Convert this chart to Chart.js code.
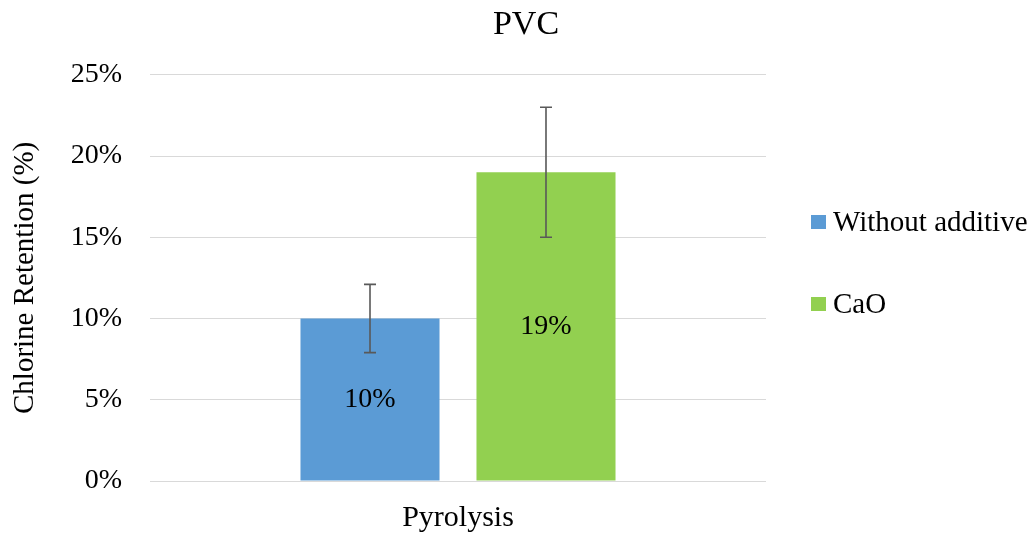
<!DOCTYPE html>
<html>
<head>
<meta charset="utf-8">
<script src="https://cdn.jsdelivr.net/npm/chart.js@4.4.1/dist/chart.umd.min.js"></script>
<style>
  html, body { margin: 0; padding: 0; background: #ffffff; }
  #wrap { width: 1034px; height: 533px; }
</style>
</head>
<body>
<div id="wrap"><canvas id="c" width="1034" height="533"></canvas></div>
<script>
const categories = ['Pyrolysis'];
const seriesNames = ['Without additive', 'CaO'];
const withoutAdditive = [10];
const caO = [19];
const withoutAdditiveErr = [2.1];
const caOErr = [4.0];
const seriesColors = ['#5B9BD5', '#92D050'];
const chartTitle = 'PVC';
const yAxisTitle = 'Chlorine Retention (%)';
const yMin = 0, yMax = 25, yStep = 5;

const FONT = "'Liberation Serif', 'Times New Roman', serif";

const errorBarPlugin = {
  id: 'errorBars',
  afterDatasetsDraw(chart) {
    const ctx = chart.ctx;
    const yScale = chart.scales.y;
    // data labels
    chart.data.datasets.forEach((ds, i) => {
      const meta = chart.getDatasetMeta(i);
      meta.data.forEach((bar, j) => {
        const v = ds.data[j];
        ctx.save();
        ctx.font = '28px ' + FONT;
        ctx.fillStyle = '#000000';
        ctx.textAlign = 'center';
        ctx.textBaseline = 'middle';
        ctx.fillText(Math.round(v) + '%', bar.x, (bar.y + bar.base) / 2);
        ctx.restore();
      });
    });
    // error bars
    chart.data.datasets.forEach((ds, i) => {
      const meta = chart.getDatasetMeta(i);
      meta.data.forEach((bar, j) => {
        const v = ds.data[j];
        const e = ds.errors[j];
        const yTop = yScale.getPixelForValue(v + e);
        const yBot = yScale.getPixelForValue(v - e);
        ctx.save();
        ctx.strokeStyle = '#595959';
        ctx.lineWidth = 1.6;
        ctx.beginPath();
        ctx.moveTo(bar.x, yTop);
        ctx.lineTo(bar.x, yBot);
        ctx.moveTo(bar.x - 6, yTop);
        ctx.lineTo(bar.x + 6, yTop);
        ctx.moveTo(bar.x - 6, yBot);
        ctx.lineTo(bar.x + 6, yBot);
        ctx.stroke();
        ctx.restore();
      });
    });
  }
};

const legendPlugin = {
  id: 'sideLegend',
  afterDraw(chart) {
    const ctx = chart.ctx;
    const area = chart.chartArea;
    const x0 = area.right + 45;
    const yStart = 222;
    const gap = 82;
    chart.data.datasets.forEach((ds, i) => {
      const cy = yStart + i * gap;
      ctx.save();
      ctx.fillStyle = ds.backgroundColor;
      ctx.fillRect(x0, cy - 7, 15, 14);
      ctx.font = '29px ' + FONT;
      ctx.fillStyle = '#000000';
      ctx.textAlign = 'left';
      ctx.textBaseline = 'middle';
      ctx.fillText(ds.label, x0 + 22, cy + 1);
      ctx.restore();
    });
  }
};

new Chart(document.getElementById('c'), {
  type: 'bar',
  data: {
    labels: categories,
    datasets: [
      { label: seriesNames[0], data: withoutAdditive, errors: withoutAdditiveErr, backgroundColor: seriesColors[0] },
      { label: seriesNames[1], data: caO, errors: caOErr, backgroundColor: seriesColors[1] }
    ]
  },
  options: {
    responsive: false,
    animation: false,
    devicePixelRatio: 1,
    layout: { padding: { left: 18, right: 0, top: 0, bottom: 0 } },
    datasets: { bar: { categoryPercentage: 0.5714, barPercentage: 0.79 } },
    plugins: {
      legend: { display: false },
      tooltip: { enabled: false },
      title: {
        display: true,
        text: chartTitle,
        color: '#000000',
        font: { family: FONT, size: 34, weight: 'normal' },
        padding: { top: 4.5, bottom: 29.5 }
      }
    },
    scales: {
      x: {
        grid: { display: false },
        border: { display: false },
        ticks: { color: '#000000', font: { family: FONT, size: 30 }, padding: 11 },
        afterFit(s) { s.height = 52; }
      },
      y: {
        min: yMin, max: yMax,
        ticks: { stepSize: yStep, color: '#000000', font: { family: FONT, size: 28 }, padding: 28,
                 callback: (v) => v + '%' },
        grid: { color: '#D9D9D9', lineWidth: 1, drawTicks: false },
        border: { display: false },
        title: { display: true, text: yAxisTitle, color: '#000000',
                 font: { family: FONT, size: 29, lineHeight: 1 }, padding: { top: -7.5, bottom: 0 } },
        afterFit(s) { s.width = 132; }
      },
      spacer: {
        type: 'linear', position: 'right', display: true,
        grid: { display: false }, border: { display: false }, ticks: { display: false },
        afterFit(s) { s.width = 268; }
      }
    }
  },
  plugins: [errorBarPlugin, legendPlugin]
});
</script>
</body>
</html>
